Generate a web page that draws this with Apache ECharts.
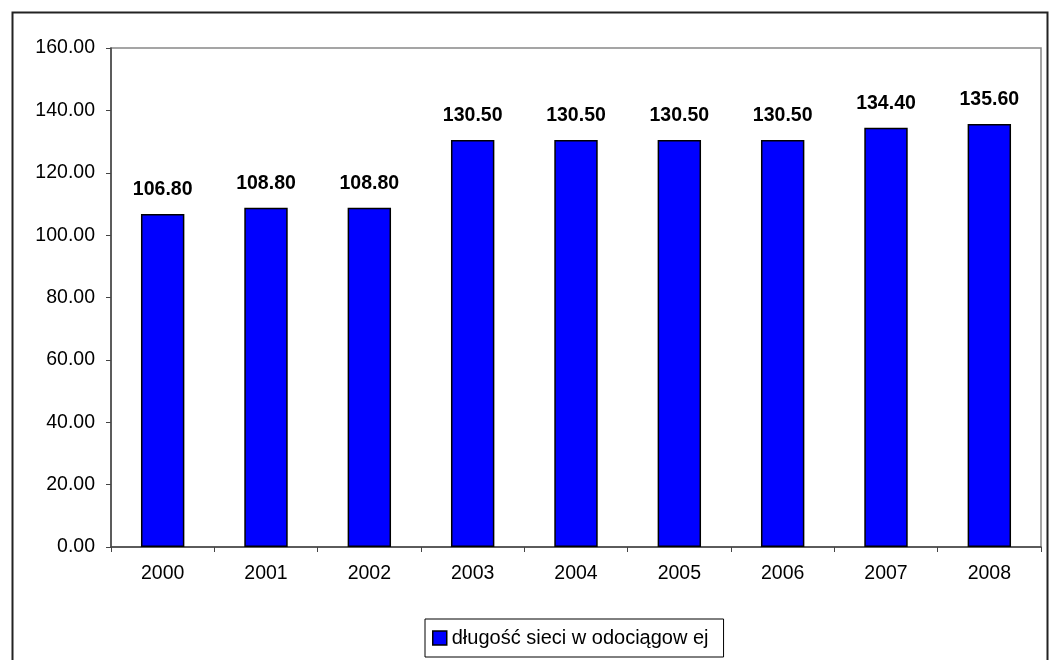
<!DOCTYPE html>
<html><head><meta charset="utf-8">
<script src="https://cdn.jsdelivr.net/npm/echarts@6/dist/echarts.min.js"></script>
<style>html,body{margin:0;padding:0;background:#fff}#c{width:1054px;height:660px}</style>
</head><body><div id="c"></div>
<script>
const categories = ['2000','2001','2002','2003','2004','2005','2006','2007','2008'];
const values = [106.8, 108.8, 108.8, 130.5, 130.5, 130.5, 130.5, 134.4, 135.6];
const seriesName = 'długość sieci w odociągow ej';
const FS = 19.5;
const chart = echarts.init(document.getElementById('c'));
chart.setOption({
  animation: false,
  textStyle: {fontFamily: 'Liberation Sans, Arial, sans-serif'},
  graphic: [{type:'rect', left:10, top:10, shape:{width:1035, height:700}, style:{fill:'none', stroke:'#222', lineWidth:2}, z:-1}],
  grid: {left:111, right:13, top:48, bottom:113, show:true, borderColor:'#888', borderWidth:1.5, backgroundColor:'#fff'},
  legend: {
    data:[seriesName], left:425, top:619,
    borderColor:'#000', borderWidth:1, padding:[9,15,9,7],
    itemWidth:14, itemHeight:14, icon:'rect',
    itemStyle:{borderColor:'#000', borderWidth:1.5},
    textStyle:{fontSize:20, color:'#000', fontFamily:'Liberation Sans, Arial, sans-serif'}
  },
  xAxis: {
    type:'category', data:categories,
    axisLine:{lineStyle:{color:'#444', width:1.5}},
    axisTick:{show:true, length:5, lineStyle:{color:'#444'}},
    axisLabel:{fontSize:FS, color:'#000', margin:17}
  },
  yAxis: {
    type:'value', min:0, max:160, interval:20,
    axisLine:{show:true, lineStyle:{color:'#444', width:1.5}},
    axisTick:{show:true, length:5, lineStyle:{color:'#444'}},
    splitLine:{show:false},
    axisLabel:{fontSize:FS, color:'#000', margin:16, formatter:v=>v.toFixed(2)}
  },
  series: [{
    type:'bar', name:seriesName, data:values, barWidth:'42%',
    itemStyle:{color:'#0000ff', borderColor:'#000', borderWidth:1.5},
    label:{show:true, position:'top', distance:14, fontSize:FS, fontWeight:'bold', color:'#000', formatter:p=>p.value.toFixed(2)}
  }]
});
</script></body></html>
